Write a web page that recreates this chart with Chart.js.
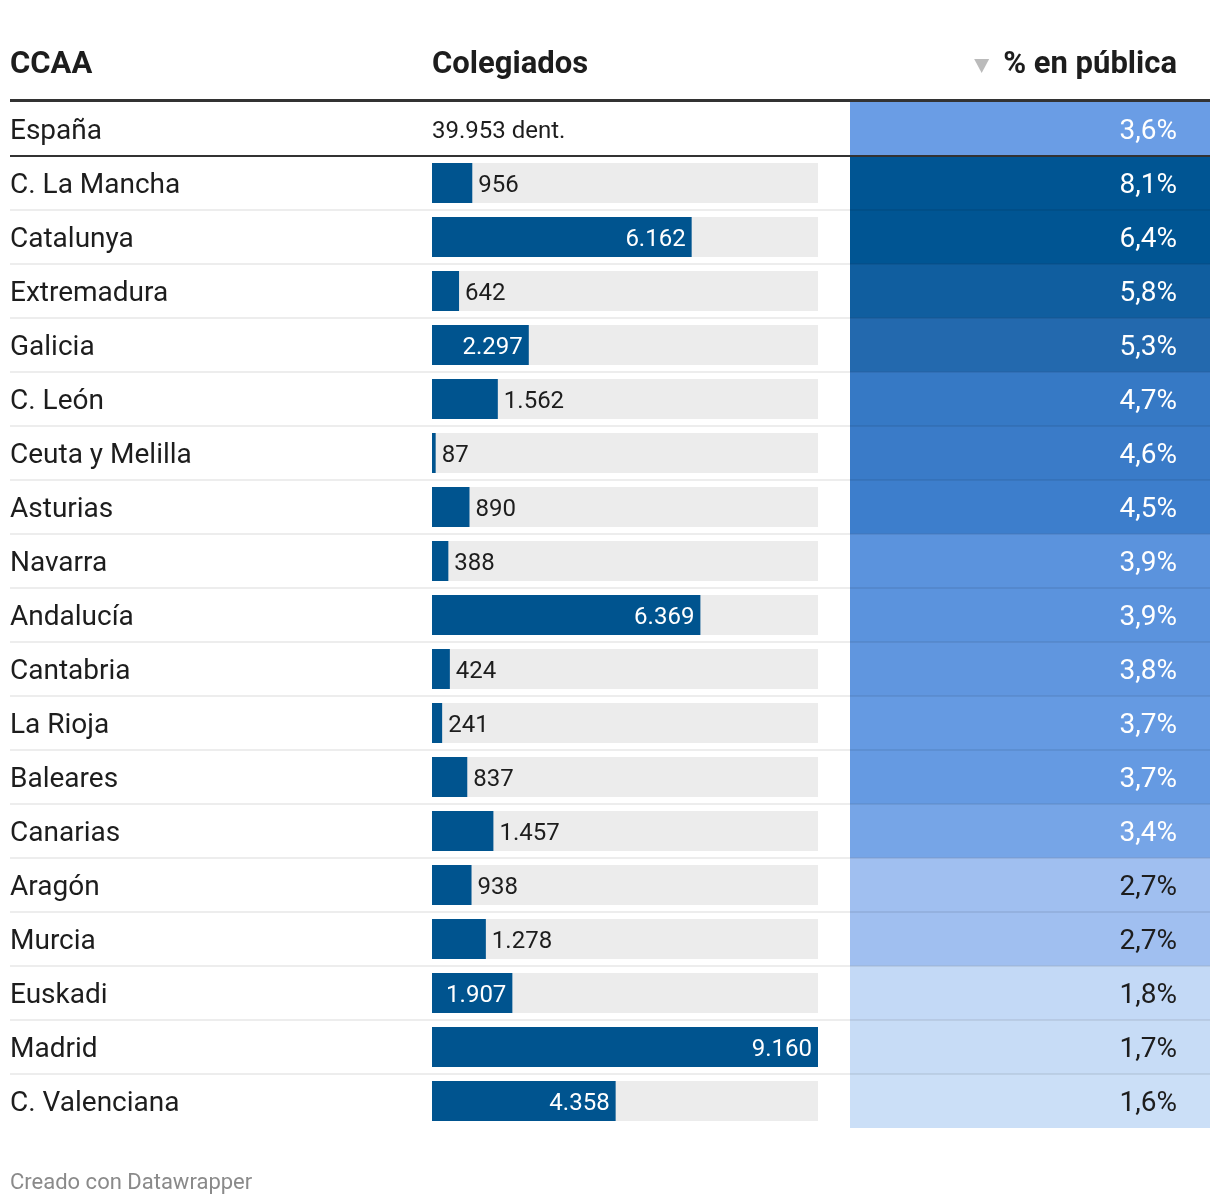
<!DOCTYPE html>
<html><head><meta charset="utf-8">
<script src="https://cdn.jsdelivr.net/npm/chart.js@4.4.1/dist/chart.umd.min.js"></script>
<style>html,body{margin:0;padding:0;background:#fff;} #wrap{width:1220px;height:1204px;position:relative}</style>
</head><body><div id="wrap"><canvas id="c" width="1220" height="1204"></canvas></div>
<script>
const regions = ['España','C. La Mancha','Catalunya','Extremadura','Galicia','C. León','Ceuta y Melilla','Asturias','Navarra','Andalucía','Cantabria','La Rioja','Baleares','Canarias','Aragón','Murcia','Euskadi','Madrid','C. Valenciana'];
const colegiados = [null, 956, 6162, 642, 2297, 1562, 87, 890, 388, 6369, 424, 241, 837, 1457, 938, 1278, 1907, 9160, 4358];
const espanaTotal = 39953;
const espanaUnit = 'dent.';
const pctPublica = [3.6, 8.1, 6.4, 5.8, 5.3, 4.7, 4.6, 4.5, 3.9, 3.9, 3.8, 3.7, 3.7, 3.4, 2.7, 2.7, 1.8, 1.7, 1.6];
const headerLabels = ['CCAA', 'Colegiados', '% en pública'];
const footerText = 'Creado con Datawrapper';

const trackMax = Math.max(...colegiados.filter(v => v != null));

function fmtInt(n){ return String(n).replace(/\B(?=(\d{3})+(?!\d))/g, '.'); }
function fmtPct(v){ return v.toFixed(1).replace('.', ',') + '%'; }

const colorStops = [
  [1.6, [203,223,247]],
  [2.7, [160,191,240]],
  [3.6, [106,157,229]],
  [4.5, [61,126,204]],
  [5.3, [35,105,174]],
  [6.2, [0,85,147]]
];
function cellColor(v){
  if (v <= colorStops[0][0]) return 'rgb(' + colorStops[0][1].join(',') + ')';
  for (let i = 1; i < colorStops.length; i++) {
    if (v <= colorStops[i][0]) {
      const [a, ca] = colorStops[i-1], [b, cb] = colorStops[i];
      const t = (v - a) / (b - a);
      const c = ca.map((x, k) => Math.round(x + (cb[k] - x) * t));
      return 'rgb(' + c.join(',') + ')';
    }
  }
  return 'rgb(' + colorStops[colorStops.length-1][1].join(',') + ')';
}

Chart.defaults.font.family = 'Roboto';

const FONT_TEXT = '28px Roboto';
const FONT_BOLD = 'bold 31px Roboto';
const FONT_BAR = '24px Roboto';
const DARK = '#1d1d1d';
const TEXT_DY = 3;

const tablePlugin = {
  id: 'tablePlugin',
  afterDatasetsDraw(chart) {
    const {ctx, scales} = chart;
    const x = scales.x, x2 = scales.x2, y = scales.y;
    const rowH = y.getPixelForValue(1) - y.getPixelForValue(0);
    const left = y.left, right = x2.right, w = right - left;
    ctx.save();
    // row separators
    ctx.fillStyle = 'rgba(0,0,0,0.07)';
    for (let i = 1; i < regions.length - 1; i++) {
      const yy = y.getPixelForValue(i) + rowH / 2;
      ctx.fillRect(left, yy - 1, w, 2);
    }
    // header rule and España rule
    ctx.fillStyle = '#333333';
    ctx.fillRect(left, y.top - 3, w, 3);
    ctx.fillRect(left, y.getPixelForValue(0) + rowH / 2 - 1, w, 2);

    // header texts
    const hy = y.top - 37;
    ctx.textBaseline = 'middle';
    ctx.font = FONT_BOLD;
    ctx.fillStyle = DARK;
    ctx.textAlign = 'left';
    ctx.fillText(headerLabels[0], left, hy);
    ctx.fillText(headerLabels[1], x.left, hy);
    ctx.textAlign = 'right';
    const pctRight = right - 33;
    ctx.fillText(headerLabels[2], pctRight, hy);
    const tw = ctx.measureText(headerLabels[2]).width;
    const tx = pctRight - tw - 14;
    ctx.fillStyle = '#bbbbbb';
    ctx.beginPath();
    ctx.moveTo(tx - 15, hy - 6);
    ctx.lineTo(tx, hy - 6);
    ctx.lineTo(tx - 7.5, hy + 8);
    ctx.closePath();
    ctx.fill();

    // España total
    ctx.font = FONT_BAR;
    ctx.fillStyle = DARK;
    ctx.textAlign = 'left';
    ctx.fillText(fmtInt(espanaTotal) + ' ' + espanaUnit, x.left, y.getPixelForValue(0) + TEXT_DY);

    // bar labels
    const meta = chart.getDatasetMeta(0);
    colegiados.forEach((v, i) => {
      if (v == null) return;
      const el = meta.data[i];
      const txt = fmtInt(v);
      const tW = ctx.measureText(txt).width;
      const bw = el.x - el.base;
      if (bw >= tW + 12) {
        ctx.fillStyle = '#ffffff';
        ctx.textAlign = 'right';
        ctx.fillText(txt, el.x - 6, el.y + TEXT_DY);
      } else {
        ctx.fillStyle = DARK;
        ctx.textAlign = 'left';
        ctx.fillText(txt, el.x + 6, el.y + TEXT_DY);
      }
    });

    // pct labels
    ctx.font = FONT_TEXT;
    ctx.textAlign = 'right';
    pctPublica.forEach((v, i) => {
      ctx.fillStyle = v >= 3 ? '#ffffff' : DARK;
      ctx.fillText(fmtPct(v), pctRight, y.getPixelForValue(i) + TEXT_DY);
    });

    // footer
    ctx.font = '22px Roboto';
    ctx.fillStyle = '#8a8a8a';
    ctx.textAlign = 'left';
    ctx.fillText(footerText, left, y.bottom + 55);
    ctx.restore();
  }
};

new Chart(document.getElementById('c'), {
  type: 'bar',
  data: {
    labels: regions,
    datasets: [
      { label: 'Colegiados', data: colegiados, xAxisID: 'x', backgroundColor: '#00548f',
        grouped: false, order: 1, categoryPercentage: 1, barPercentage: 40/54, borderWidth: 0 },
      { label: 'track', data: colegiados.map(v => v == null ? null : trackMax), xAxisID: 'x', backgroundColor: '#ececec',
        grouped: false, order: 2, categoryPercentage: 1, barPercentage: 40/54, borderWidth: 0 },
      { label: '% en pública', data: pctPublica.map(() => 1), xAxisID: 'x2', backgroundColor: pctPublica.map(cellColor),
        grouped: false, order: 3, categoryPercentage: 1, barPercentage: 1, borderWidth: 0 }
    ]
  },
  options: {
    indexAxis: 'y',
    responsive: false,
    animation: false,
    events: [],
    layout: { padding: { top: 102, bottom: 76, left: 10, right: 10 } },
    plugins: { legend: { display: false }, tooltip: { enabled: false } },
    scales: {
      y: {
        type: 'category', position: 'left', offset: true,
        grid: { display: false }, border: { display: false },
        ticks: { crossAlign: 'far', padding: 0, labelOffset: 3, color: DARK, font: { size: 28, family: 'Roboto' } },
        afterFit(scale) { scale.width = 422; }
      },
      x: { type: 'linear', axis: 'x', position: 'bottom', min: 0, max: trackMax, display: false,
           stack: 'cols', stackWeight: 386, weight: 0 },
      gap: { type: 'linear', axis: 'x', position: 'bottom', min: 0, max: 1, display: false,
           stack: 'cols', stackWeight: 32, weight: 1 },
      x2: { type: 'linear', axis: 'x', position: 'bottom', min: 0, max: 1, display: false,
           stack: 'cols', stackWeight: 360, weight: 2 }
    }
  },
  plugins: [tablePlugin]
});
</script>
</body></html>
